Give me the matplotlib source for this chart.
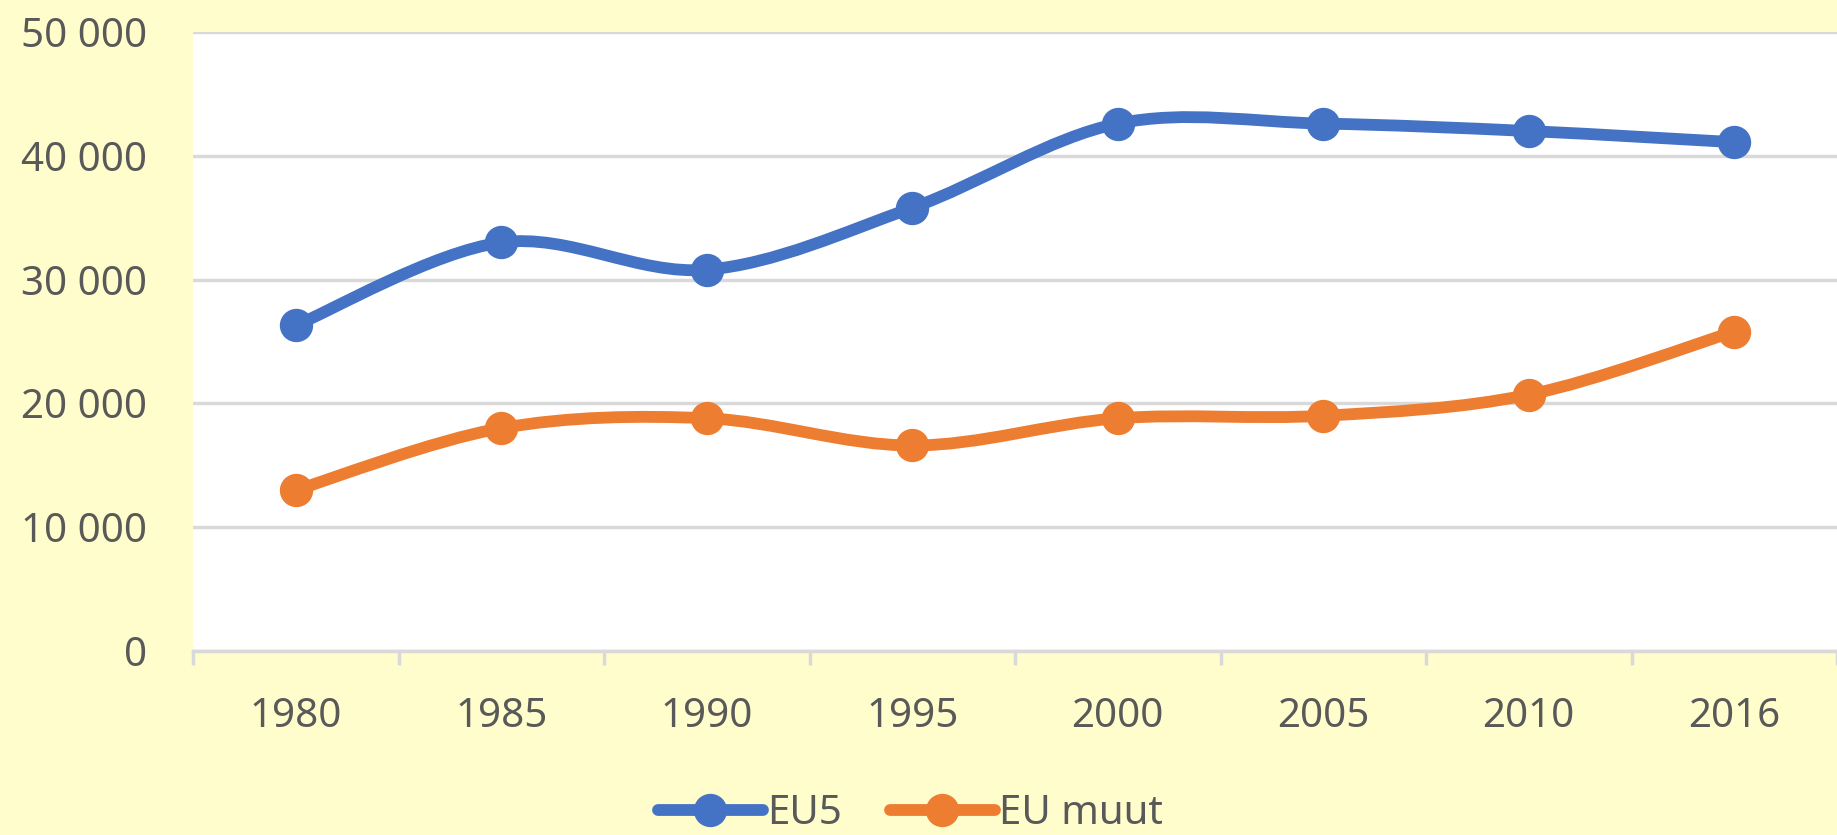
import matplotlib
matplotlib.use("Agg")
import matplotlib.pyplot as plt
from matplotlib.path import Path
from matplotlib.patches import PathPatch
from matplotlib.lines import Line2D
from matplotlib.ticker import FuncFormatter, FixedLocator
import numpy as np

years = ["1980", "1985", "1990", "1995", "2000", "2005", "2010", "2016"]
eu5 = [26300, 33000, 30800, 35800, 42600, 42600, 42000, 41100]
eu_muut = [13000, 18000, 18800, 16600, 18800, 19000, 20700, 25800]
series_names = ["EU5", "EU muut"]
colors = ["#4472C4", "#ED7D31"]
yticks = [0, 10000, 20000, 30000, 40000, 50000]

BG = "#FFFDCC"
TXT = "#595959"
FONT = "Noto Sans"
FS = 29
LW = 8.5
MS = 23

fig = plt.figure(figsize=(18.37, 8.35), dpi=100, facecolor=BG)
ax = fig.add_axes([193/1837, (835-651)/835, 1 - 193/1837, (651-32)/835])
ax.set_facecolor("white")

x = np.arange(len(years))


def smooth_path(xs, ys):
    pts = np.column_stack([xs, ys]).astype(float)
    n = len(pts)
    verts = [pts[0]]
    codes = [Path.MOVETO]
    for i in range(n - 1):
        p0 = pts[i - 1] if i > 0 else pts[i]
        p1 = pts[i]
        p2 = pts[i + 1]
        p3 = pts[i + 2] if i + 2 < n else pts[i + 1]
        c1 = p1 + (p2 - p0) / 6.0
        c2 = p2 - (p3 - p1) / 6.0
        verts += [c1, c2, p2]
        codes += [Path.CURVE4] * 3
    return Path(verts, codes)


for vals, c in zip([eu5, eu_muut], colors):
    ax.add_patch(PathPatch(smooth_path(x, vals), facecolor="none", edgecolor=c,
                           lw=LW, capstyle="round", joinstyle="round", zorder=3))
    ax.plot(x, vals, linestyle="none", marker="o", ms=MS, color=c, zorder=4)

ax.set_xlim(-0.5, len(years) - 0.5)
ax.set_ylim(0, 50000)
ax.set_yticks(yticks)
ax.yaxis.set_major_formatter(FuncFormatter(lambda v, p: f"{int(v):,}".replace(",", " ")))
ax.grid(axis="y", color="#D9D9D9", lw=2.5, zorder=1)
ax.set_axisbelow(True)

ax.set_xticks(x)
ax.set_xticklabels(years)
ax.xaxis.set_minor_locator(FixedLocator(np.arange(-0.5, len(years), 1.0)))
ax.tick_params(axis="x", which="major", length=0, pad=33, labelsize=FS, labelcolor=TXT)
ax.tick_params(axis="x", which="minor", length=10, width=2.5, color="#D9D9D9")
ax.tick_params(axis="y", length=0, pad=33, labelsize=FS, labelcolor=TXT)
for lab in ax.get_xticklabels() + ax.get_yticklabels():
    lab.set_fontfamily(FONT)

for s in ["top", "right", "left"]:
    ax.spines[s].set_visible(False)
ax.spines["bottom"].set_color("#D9D9D9")
ax.spines["bottom"].set_linewidth(2.5)
ax.spines["bottom"].set_zorder(2)

handles = [Line2D([0], [0], color=c, lw=LW, marker="o", ms=MS, solid_capstyle="round")
           for c in colors]
leg = fig.legend(handles, series_names, loc="center", bbox_to_anchor=(0.4955, 0.025),
                 ncol=2, frameon=False, handlelength=2.6, handletextpad=0.1,
                 columnspacing=1.2, borderpad=0, prop={"family": FONT, "size": FS})
for t in leg.get_texts():
    t.set_color(TXT)

fig.savefig("out.png", dpi=100, facecolor=BG)
